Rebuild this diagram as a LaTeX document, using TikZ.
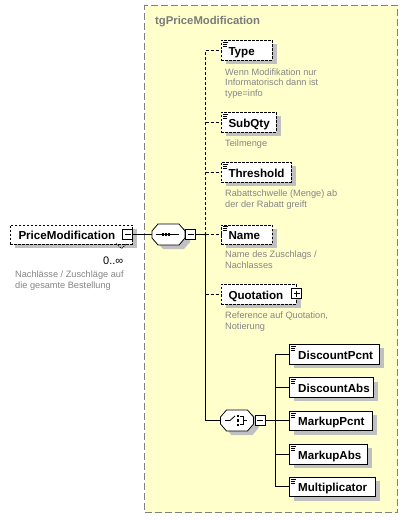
\documentclass[tikz,border=0pt]{standalone}
\usepackage{fontspec}
\setmainfont{Liberation Sans}
\usetikzlibrary{calc,shadows}
\definecolor{grpfill}{HTML}{FFFFCC}
\definecolor{grpline}{HTML}{808080}
\definecolor{shd}{HTML}{C0C0C0}
\definecolor{desc}{HTML}{858585}
\definecolor{ttl}{HTML}{7A7A7A}
\newcommand\simpicon[1]{\draw[line width=0.6pt] ($(#1.north west)+(1.8,2.2)$) -- +(5.2,0) ($(#1.north west)+(1.8,4.2)$) -- +(4.6,0) ($(#1.north west)+(1.8,6.2)$) -- +(4.6,0);}
\begin{document}
\begin{tikzpicture}[x=1pt,y=-1pt,
  ebox/.style={draw, fill=white, line width=0.8pt, inner sep=0pt, minimum height=19.5pt, anchor=north west,
    drop shadow={shadow xshift=5pt, shadow yshift=-4pt, fill=shd, opacity=1}},
  obox/.style={ebox, dash pattern=on 2.5pt off 1.5pt},
  lbl/.style={font=\fontsize{11.6}{14}\selectfont\bfseries, anchor=base west, inner sep=0pt},
  dsc/.style={font=\fontsize{9.2}{10.8}\selectfont, text=desc, anchor=base west, inner sep=0pt},
  conn/.style={line width=0.9pt},
  oconn/.style={line width=0.9pt, dash pattern=on 3pt off 2pt},
  mbox/.style={draw, fill=white, line width=0.8pt, minimum width=10pt, minimum height=10pt, inner sep=0pt,
    path picture={\draw[line width=0.8pt] ([xshift=2pt]path picture bounding box.west) -- ([xshift=-2pt]path picture bounding box.east);}},
  pbox/.style={draw, fill=white, line width=0.8pt, minimum width=10pt, minimum height=10pt, inner sep=0pt,
    path picture={\draw[line width=0.8pt] ([xshift=2pt]path picture bounding box.west) -- ([xshift=-2pt]path picture bounding box.east)
      ([yshift=-2pt]path picture bounding box.north) -- ([yshift=2pt]path picture bounding box.south);}},
  octa/.pic={
    \fill[shd, shift={(5,4)}] (-10.5,-10.5) -- (10.5,-10.5) -- (16.5,-3.5) -- (16.5,3.5) -- (10.5,10.5) -- (-10.5,10.5) -- (-16.5,3.5) -- (-16.5,-3.5) -- cycle;
    \draw[fill=white, line width=0.8pt] (-10.5,-10.5) -- (10.5,-10.5) -- (16.5,-3.5) -- (16.5,3.5) -- (10.5,10.5) -- (-10.5,10.5) -- (-16.5,3.5) -- (-16.5,-3.5) -- cycle;
  }
]
\useasboundingbox (0,0) rectangle (407,520);
\fill[white] (0,0) rectangle (407,520);

% group
\node[draw=grpline, fill=grpfill, line width=1pt, dash pattern=on 7pt off 3pt, minimum width=253pt, minimum height=507pt, anchor=north west, inner sep=0pt] (grp) at (144,5) {};
\node[font=\fontsize{11.3}{13}\selectfont\bfseries, text=ttl, anchor=base west, inner sep=0pt] (ttl) at (155,24) {tgPriceModification};

% root element
\node[obox, minimum width=122pt, minimum height=19pt] (pm) at (10,224.5) {};
\node[lbl] (pml) at ($(pm.west)+(8.3,5)$) {PriceModification};
\draw[line width=0.7pt, dash pattern=on 1.5pt off 1pt] (116,243.5) -- (121.5,248.5) -- (127,243.5);
\node[mbox] (pmm) at (127.7,234.5) {};
\node[font=\fontsize{11}{13}\selectfont, anchor=base east, inner sep=0pt] (pmocc) at (123.5,264.5) {0..∞};
\node[dsc] (pmd1) at (15,277.3) {Nachlässe / Zuschläge auf};
\node[dsc] (pmd2) at (15,288.1) {die gesamte Bestellung};

% sequence
\node[inner sep=0pt, minimum width=33pt, minimum height=21pt] (seq) at (168.5,234.5) {};
\pic at (seq) {octa};
\draw[line width=0.9pt] ($(seq)+(-12.5,0)$) -- ($(seq)+(10.5,0)$);
\fill ($(seq)+(-7,-1.5)$) rectangle +(2,3);
\fill ($(seq)+(-4,-1.5)$) rectangle +(2,3);
\fill ($(seq)+(-1,-1.5)$) rectangle +(2,3);
\node[mbox] (seqm) at (190.5,234.5) {};
\coordinate (j) at (205.5,234.5);

% optional elements
\node[obox, minimum width=51pt] (type) at (221,40) {};
\node[lbl] at ($(type.west)+(7.3,5)$) {Type};
\simpicon{type}
\node[dsc] (typed1) at (225,75) {Wenn Modifikation nur};
\node[dsc] (typed2) at (225,85.8) {Informatorisch dann ist};
\node[dsc] (typed3) at (225,96.6) {type=info};

\node[obox, minimum width=55pt] (subqty) at (221,112) {};
\node[lbl] at ($(subqty.west)+(7.3,5)$) {SubQty};
\simpicon{subqty}
\node[dsc] (subd) at (225,146.7) {Teilmenge};

\node[obox, minimum width=70pt] (thr) at (221,162) {};
\node[lbl] at ($(thr.west)+(7.3,5)$) {Threshold};
\simpicon{thr}
\node[dsc] (thrd1) at (225,196.5) {Rabattschwelle (Menge) ab};
\node[dsc] (thrd2) at (225,207.3) {der der Rabatt greift};

\node[obox, minimum width=51pt] (name) at (221,224.5) {};
\node[lbl] at ($(name.west)+(7.3,5)$) {Name};
\simpicon{name}
\node[dsc] (named1) at (225,257.7) {Name des Zuschlags /};
\node[dsc] (named2) at (225,268.5) {Nachlasses};

\node[obox, minimum width=75pt] (quot) at (221,284) {};
\node[lbl] at ($(quot.west)+(7.3,5)$) {Quotation};
\node[pbox] (quotp) at (296.7,293.7) {};
\node[dsc] (quotd1) at (225,318.3) {Reference auf Quotation,};
\node[dsc] (quotd2) at (225,329.1) {Notierung};

% choice
\node[inner sep=0pt, minimum width=33pt, minimum height=21pt] (cho) at (237,420.5) {};
\pic at (cho) {octa};
\draw[line width=0.8pt] ($(cho)+(-12,0)$) -- ($(cho)+(-7,0)$) -- ($(cho)+(-2,-4.5)$);
\fill ($(cho)+(-0.3,-5.5)$) rectangle +(2.6,2.3);
\fill ($(cho)+(-0.3,-1.2)$) rectangle +(2.6,2.3);
\fill ($(cho)+(-0.3,3)$) rectangle +(2.6,2.3);
\draw[line width=0.8pt] ($(cho)+(3.2,-4.4)$) -- ($(cho)+(6,-4.4)$) -- ($(cho)+(6,4.2)$) -- ($(cho)+(3.2,4.2)$)
  ($(cho)+(6,0)$) -- ($(cho)+(9.7,0)$);
\node[mbox] (chom) at (260.3,420.5) {};
\coordinate (k) at (275,420.5);

% choice children
\node[ebox, minimum width=90pt] (dpcnt) at (289,344) {};
\node[lbl] at ($(dpcnt.west)+(9,5)$) {DiscountPcnt};
\simpicon{dpcnt}
\node[ebox, minimum width=84pt] (dabs) at (289,377.3) {};
\node[lbl] at ($(dabs.west)+(9,5)$) {DiscountAbs};
\simpicon{dabs}
\node[ebox, minimum width=83pt] (mpcnt) at (289,410.7) {};
\node[lbl] at ($(mpcnt.west)+(9,5)$) {MarkupPcnt};
\simpicon{mpcnt}
\node[ebox, minimum width=78pt] (mabs) at (289,444) {};
\node[lbl] at ($(mabs.west)+(9,5)$) {MarkupAbs};
\simpicon{mabs}
\node[ebox, minimum width=86pt] (mult) at (289,476.7) {};
\node[lbl] at ($(mult.west)+(9,5)$) {Multiplicator};
\simpicon{mult}

% connectors
\draw[conn] (pmm.east) -- (seq.west);
\draw[conn] (seqm.east) -- (j);
\draw[oconn] (j) -- (j |- type.west);
\foreach \n in {type,subqty,thr,name,quot} \draw[oconn] (j |- \n.west) -- (\n.west);
\draw[conn] (j) |- (cho.west);
\draw[conn] (chom.east) -- (k);
\draw[conn] (k |- dpcnt.west) -- (k |- mult.west);
\foreach \n in {dpcnt,dabs,mpcnt,mabs,mult} \draw[conn] (k |- \n.west) -- (\n.west);
\end{tikzpicture}
\end{document}
